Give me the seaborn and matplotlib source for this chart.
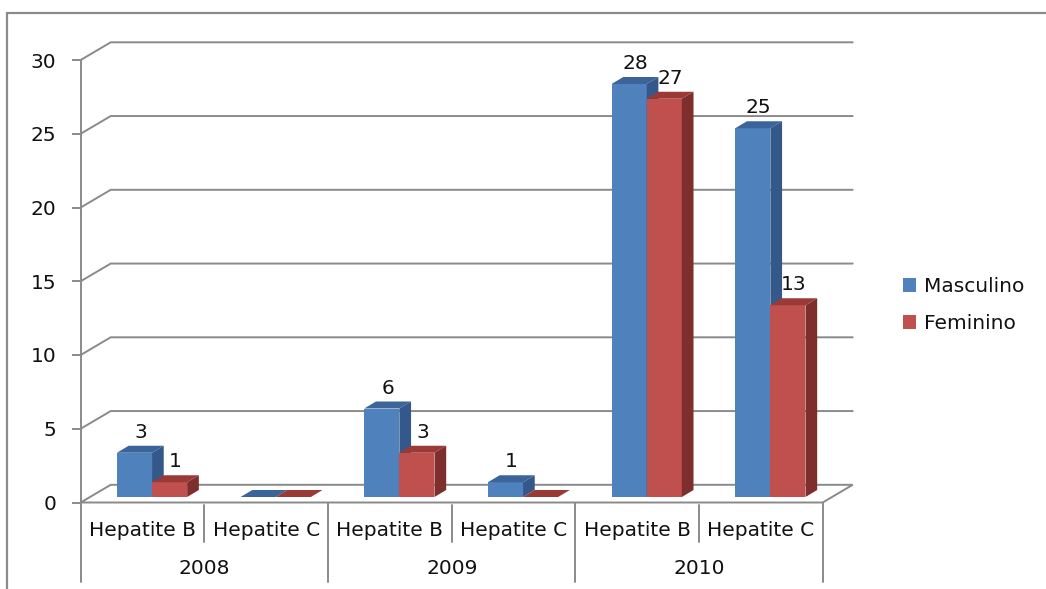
import matplotlib
matplotlib.use("Agg")
import matplotlib.pyplot as plt
import matplotlib.transforms as mtransforms
from matplotlib.patches import Polygon, Patch
from matplotlib.lines import Line2D
import seaborn as sns
import pandas as pd

# ---- data -------------------------------------------------------------
anos = ["2008", "2009", "2010"]
doencas = ["Hepatite B", "Hepatite C"]
series = ["Masculino", "Feminino"]
masculino = [3, 0, 6, 1, 28, 25]
feminino = [1, 0, 3, 0, 27, 13]
y_ticks = [0, 5, 10, 15, 20, 25, 30]

grupos = [f"{a} {d}" for a in anos for d in doencas]
df = pd.DataFrame({
    "grupo": grupos * 2,
    "sexo": [series[0]] * len(grupos) + [series[1]] * len(grupos),
    "casos": masculino + feminino,
})

# ---- style ------------------------------------------------------------
sns.set_style("white")
plt.rcParams["font.family"] = ["DejaVu Sans"]
FS = 14.5
GRAY = "#8a8a8a"
TXT = "#111111"
front = {"Masculino": "#4F81BD", "Feminino": "#C0504D"}
top_c = {"Masculino": "#3B659A", "Feminino": "#9A3936"}
side_c = {"Masculino": "#35588A", "Feminino": "#7E2E2C"}

W, H = 1046, 589
fig = plt.figure(figsize=(W / 100, H / 100), dpi=100)
ax_l, ax_r, ax_b, ax_t = 80.7, 822.7, 502.5, 60.0
ax = fig.add_axes([ax_l / W, 1 - ax_b / H, (ax_r - ax_l) / W, (ax_b - ax_t) / H])

sns.barplot(data=df, x="grupo", y="casos", hue="sexo", order=grupos,
            hue_order=series, palette=[front[s] for s in series],
            saturation=1, width=0.568, gap=0, errorbar=None, legend=False,
            linewidth=0, ax=ax)

ax.set_xlim(-0.5, 5.5)
ax.set_ylim(0, 30)
for s in ax.spines.values():
    s.set_visible(False)

ppx = ax.bbox.width / 6.0     # pixels per category
ppy = ax.bbox.height / 30.0   # pixels per unit


def px(dx, dy):
    return dx / ppx, dy / ppy


# ---- walls: back gridlines and floor ------------------------------------
gdx, gdy = px(30.0, 17.7)
lw = 1.4
for v in y_ticks[1:]:
    ax.plot([-0.5, -0.5 + gdx, 5.5 + gdx], [v, v + gdy, v + gdy],
            color=GRAY, lw=lw, clip_on=False, zorder=1)
floor = Polygon([(-0.5, 0), (5.5, 0), (5.5 + gdx, gdy), (-0.5 + gdx, gdy)],
                closed=True, facecolor="white", edgecolor=GRAY, lw=lw,
                clip_on=False, zorder=1)
ax.add_patch(floor)

# front y axis line, extended through the category rows
y_cat_bottom = -(582 - ax_b) / ppy
y_sub_bottom = -(542 - ax_b) / ppy
y_sub_top = -(505 - ax_b) / ppy
ax.plot([-0.5, -0.5], [y_cat_bottom, 30], color=GRAY, lw=lw,
        clip_on=False, zorder=1.5)

ax.set_yticks(y_ticks)
ax.set_yticklabels([str(v) for v in y_ticks])
ax.tick_params(axis="y", length=6.5, width=lw, color=GRAY, pad=11,
               labelsize=FS, labelcolor=TXT, left=True)
ax.set_xticks([])
ax.set_xlabel("")
ax.set_ylabel("")

# ---- category axis ------------------------------------------------------
for b in range(1, 6):
    xb = b - 0.5
    y0 = y_cat_bottom if b % 2 == 0 else y_sub_bottom
    ax.plot([xb, xb], [y_sub_top if b % 2 else 0, y0], color=GRAY, lw=lw,
            clip_on=False)
ax.plot([5.5, 5.5], [0, y_cat_bottom], color=GRAY, lw=lw, clip_on=False)

y_sub_lbl = -(530 - ax_b) / ppy
y_year_lbl = -(569 - ax_b) / ppy
for i, g in enumerate(grupos):
    ax.text(i, y_sub_lbl, doencas[i % 2], ha="center", va="center",
            fontsize=FS, color=TXT, clip_on=False)
for k, a in enumerate(anos):
    ax.text(2 * k + 0.5, y_year_lbl, a, ha="center", va="center",
            fontsize=FS, color=TXT, clip_on=False)

# ---- 3D bars ------------------------------------------------------------
bar_shift = mtransforms.ScaledTranslation(9.5 / 100, 5.5 / 100,
                                          fig.dpi_scale_trans)
T = ax.transData + bar_shift
bdx, bdy = px(11.7, 7.0)

bars = []
for cont, sexo in zip(ax.containers, series):
    for p in cont.patches:
        bars.append((p, sexo))

for p, sexo in bars:
    x0 = p.get_x()
    x1 = x0 + p.get_width()
    h = p.get_height()
    z = 2 + x0 * 0.01
    p.set_transform(T)
    p.set_zorder(z)
    p.set_clip_on(False)
    topf = Polygon([(x0, h), (x1, h), (x1 + bdx, h + bdy), (x0 + bdx, h + bdy)],
                   closed=True, facecolor=top_c[sexo], lw=0, transform=T,
                   zorder=z, clip_on=False)
    ax.add_patch(topf)
    if h > 0:
        side = Polygon([(x1, 0), (x1 + bdx, bdy), (x1 + bdx, h + bdy), (x1, h)],
                       closed=True, facecolor=side_c[sexo], lw=0, transform=T,
                       zorder=z, clip_on=False)
        ax.add_patch(side)
        lbl_shift = mtransforms.ScaledTranslation(15.5 / 100, 26.0 / 100,
                                                  fig.dpi_scale_trans)
        ax.text((x0 + x1) / 2, h, f"{h:g}", ha="center", va="center",
                fontsize=FS, color=TXT, transform=ax.transData + lbl_shift,
                zorder=10, clip_on=False)

# ---- legend -------------------------------------------------------------
handles = [Patch(facecolor=front[s], edgecolor="none") for s in series]
fig.legend(handles, series, loc="center left",
           bbox_to_anchor=(903 / W, 1 - 305 / H), frameon=False,
           fontsize=FS, handlelength=0.65, handleheight=0.65,
           handletextpad=0.4, labelspacing=0.9, borderpad=0,
           borderaxespad=0, labelcolor=TXT)

# ---- outer frame --------------------------------------------------------
fig.add_artist(Line2D([7.3 / W, 7.3 / W], [0, 1 - 12.7 / H],
                      transform=fig.transFigure, color=GRAY, lw=1.6))
fig.add_artist(Line2D([7.3 / W, 1.0], [1 - 12.7 / H, 1 - 12.7 / H],
                      transform=fig.transFigure, color=GRAY, lw=1.6))

fig.savefig("out.png", dpi=100, facecolor="white")
